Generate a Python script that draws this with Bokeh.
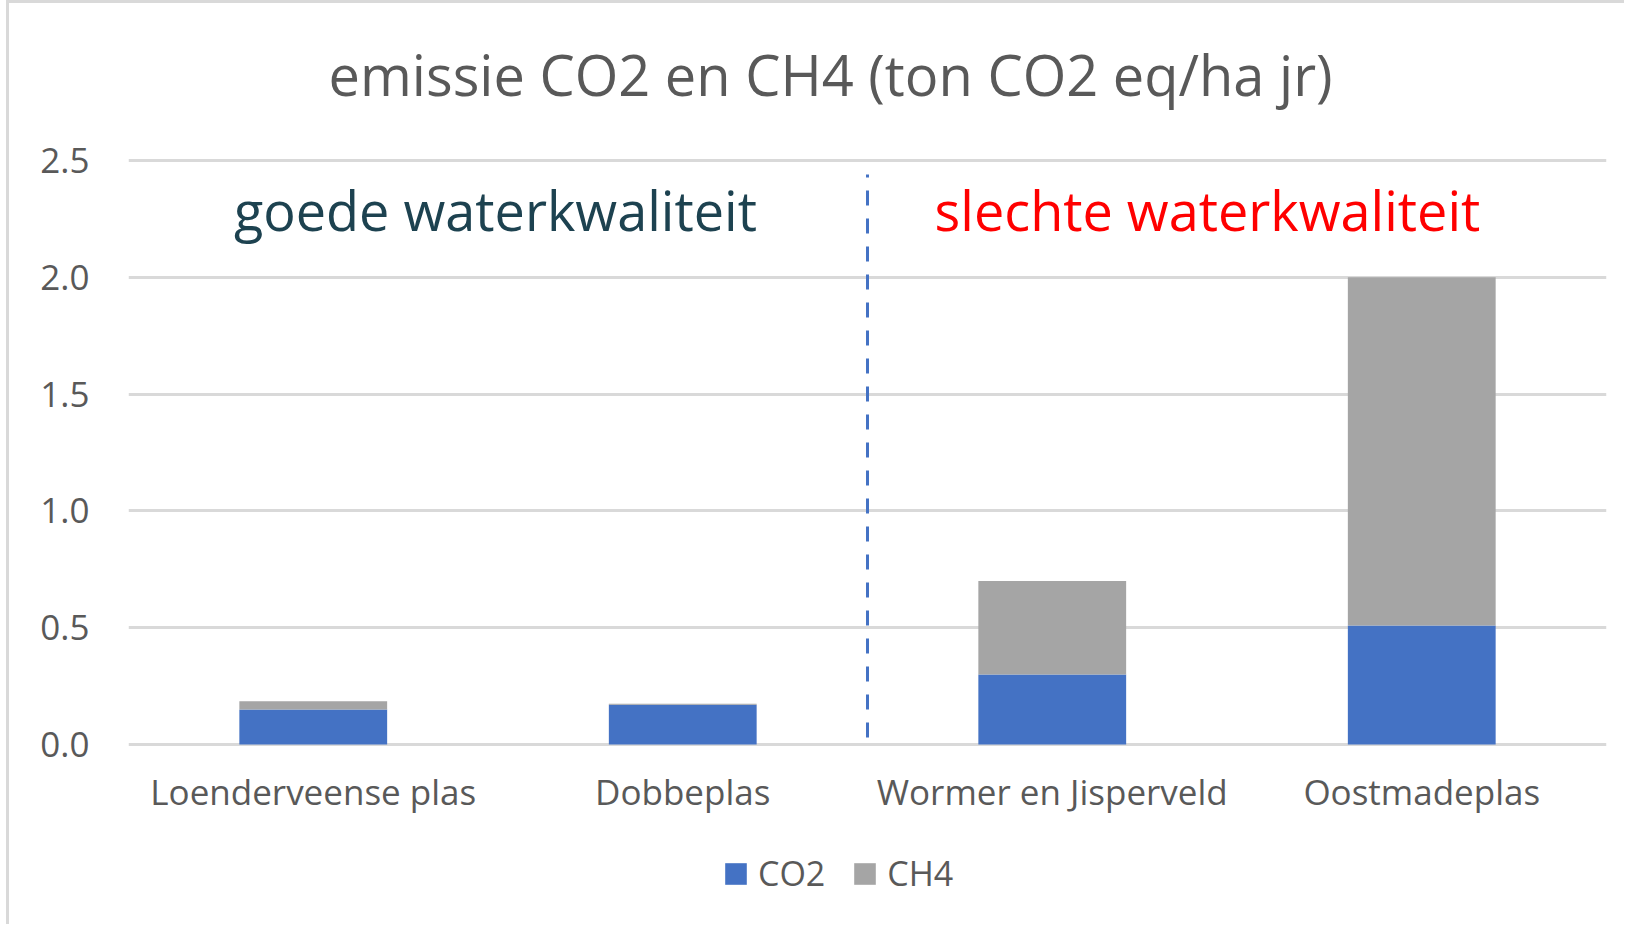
from bokeh.plotting import figure
from bokeh.models import (FactorRange, Range1d, Label, Legend, LegendItem,
                          FixedTicker, NumeralTickFormatter, ColumnDataSource)
from bokeh.core.properties import value
from bokeh.embed import file_html
from bokeh.resources import INLINE

# ---- data ----
categories = ["Loenderveense plas", "Dobbeplas", "Wormer en Jisperveld", "Oostmadeplas"]
co2 = [0.15, 0.17, 0.30, 0.51]
ch4 = [0.035, 0.005, 0.40, 1.49]
series = ["CO2", "CH4"]
colors = ["#4472C4", "#A5A5A5"]
y_ticks = [0.0, 0.5, 1.0, 1.5, 2.0, 2.5]
title_text = "emissie CO2 en CH4 (ton CO2 eq/ha jr)"
good_text = "goede waterkwaliteit"
bad_text = "slechte waterkwaliteit"
n_good = 2  # first two lakes: good water quality

FONT = "Open Sans"
GREY_TXT = "#595959"

# the frame spans the whole canvas height, so title, category labels and
# legend are placed inside it (below 0 / above 2.5 no grid lines are drawn)
p = figure(x_range=FactorRange(*categories), y_range=Range1d(-0.783, 3.172),
           width=1618, height=924, output_backend="svg", toolbar_location=None,
           min_border_left=119, min_border_right=21, min_border_top=0,
           min_border_bottom=0)
p.styles = {"border-left": "3px solid #D9D9D9", "border-top": "3px solid #D9D9D9",
            "margin-left": "6px"}
p.outline_line_color = None
p.background_fill_color = "white"
p.border_fill_color = "white"

data = ColumnDataSource({"cat": categories, "CO2": co2, "CH4": ch4})
rs = p.vbar_stack(series, x="cat", width=0.4, color=colors, line_color=None, source=data)

# axes
p.xaxis.visible = False
p.xgrid.grid_line_color = None
p.yaxis.ticker = FixedTicker(ticks=y_ticks)
p.yaxis.formatter = NumeralTickFormatter(format="0.0")
p.ygrid.grid_line_color = "#D9D9D9"
p.ygrid.grid_line_width = 3
ax = p.yaxis[0]
ax.axis_line_color = None
ax.major_tick_line_color = None
ax.minor_tick_line_color = None
ax.major_tick_out = 0
ax.major_tick_in = 0
ax.major_label_text_color = GREY_TXT
ax.major_label_text_font = FONT
ax.major_label_text_font_size = "35px"
ax.major_label_standoff = 39

# category labels under the bars
p.text(x="cat", y=-0.201, text="cat", source=data, text_font=value(FONT),
       text_font_size="35px", text_color=GREY_TXT, text_align="center",
       text_baseline="middle")

# divider between good and bad water quality
p.segment(x0=[n_good], x1=[n_good], y0=[0.03], y1=[2.44], line_color="#4472C4",
          line_width=3, line_dash="15 13")

# title and group labels
p.add_layout(Label(x=1.9, y=2.872, text=title_text, text_font=FONT,
                   text_font_size="56px", text_color=GREY_TXT,
                   text_align="center", text_baseline="middle"))
p.add_layout(Label(x=0.993, y=2.29, text=good_text, text_font=FONT,
                   text_font_size="54px", text_color="#1D4250",
                   text_align="center", text_baseline="middle"))
p.add_layout(Label(x=2.92, y=2.29, text=bad_text, text_font=FONT,
                   text_font_size="54px", text_color="#FF0000",
                   text_align="center", text_baseline="middle"))

legend = Legend(items=[LegendItem(label=s, renderers=[r]) for s, r in zip(series, rs)],
                orientation="horizontal", location=(594, 31),
                glyph_width=27, glyph_height=27, label_standoff=9, spacing=26,
                label_text_font=FONT, label_text_font_size="34px",
                label_text_color=GREY_TXT, border_line_color=None,
                background_fill_alpha=0, padding=0, margin=0)
p.add_layout(legend)

open("out.html", "w").write(file_html(p, INLINE))
